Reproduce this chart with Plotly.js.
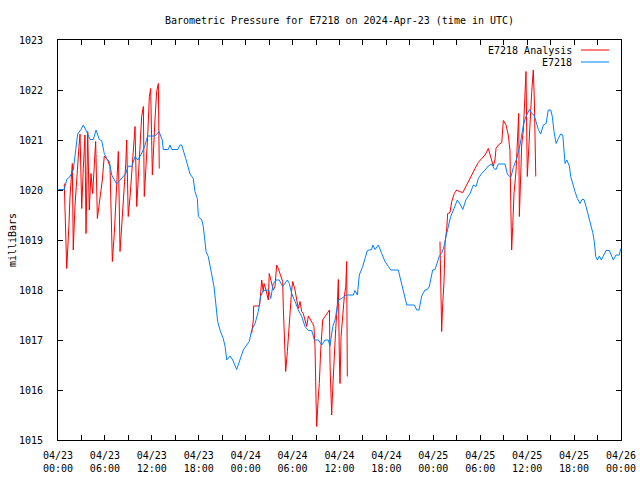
<!DOCTYPE html>
<html>
<head>
<meta charset="utf-8">
<script src="https://cdn.plot.ly/plotly-3.0.1.min.js"></script>
<style>html,body{margin:0;padding:0;background:#fff;}#chart{width:640px;height:480px;}</style>
</head>
<body>
<div id="chart"></div>
<script>
// Observed station pressure (E7218): minutes since 2024-04-23 00:00 UTC, millibars
const obsMinutes = [2,48,67,92,117,151,176,194,220,233,246,271,292,317,335,355,374,394,412,450,489,520,539,566,591,612,637,662,688,744,775,800,808,846,859,873,919,936,949,962,980,1013,1038,1051,1069,1077,1103,1115,1136,1153,1179,1197,1212,1225,1243,1268,1282,1295,1320,1341,1371,1397,1422,1448,1468,1486,1512,1537,1555,1575,1602,1617,1632,1652,1673,1698,1724,1742,1760,1775,1793,1819,1844,1870,1895,1921,1947,1967,1998,2024,2049,2074,2087,2108,2126,2151,2177,2210,2228,2266,2279,2297,2312,2338,2356,2374,2407,2415,2433,2458,2484,2509,2535,2553,2611,2630,2650,2663,2676,2734,2753,2770,2791,2816,2834,2849,2860,2875,2893,2911,2926,2944,2962,2977,2995,3013,3039,3064,3085,3106,3131,3162,3187,3208,3225,3251,3277,3302,3328,3346,3361,3379,3430,3448,3474,3494,3520,3545,3571,3591,3617,3635,3653,3668,3686,3704,3724,3745,3762,3781,3793,3806,3822,3839,3857,3873,3883,3891,3904,3924,3934,3950,3967,3985,4006,4021,4036,4052,4069,4088,4103,4115,4126,4139,4154,4169,4185,4205,4231,4246,4261,4282,4307,4318];
const obsPressure = [1020.01,1020.01,1020.21,1020.27,1020.40,1021.12,1021.21,1021.30,1021.17,1021.07,1021.01,1021.01,1021.20,1021.01,1020.99,1020.73,1020.63,1020.57,1020.30,1020.12,1020.23,1020.33,1020.48,1020.47,1020.67,1020.60,1020.71,1020.85,1021.08,1021.08,1021.17,1021.00,1020.81,1020.81,1020.90,1020.81,1020.81,1020.90,1020.90,1020.77,1020.63,1020.32,1020.23,1019.97,1019.83,1019.47,1019.40,1019.27,1018.77,1018.67,1018.33,1018.07,1017.70,1017.37,1017.20,1017.03,1016.87,1016.60,1016.68,1016.60,1016.41,1016.60,1016.80,1016.90,1016.97,1017.20,1017.33,1017.57,1017.87,1017.99,1018.00,1018.00,1017.83,1018.13,1018.20,1018.20,1018.07,1018.13,1018.20,1018.13,1017.93,1017.77,1017.60,1017.47,1017.27,1017.19,1017.19,1017.00,1017.00,1016.90,1017.00,1017.00,1016.88,1017.27,1017.40,1017.80,1017.83,1017.90,1017.90,1017.90,1017.99,1017.90,1018.30,1018.47,1018.63,1018.79,1018.81,1018.90,1018.81,1018.90,1018.73,1018.57,1018.47,1018.40,1018.40,1018.20,1018.03,1017.90,1017.70,1017.70,1017.60,1017.60,1017.88,1018.00,1018.01,1018.07,1018.23,1018.40,1018.41,1018.57,1018.68,1018.73,1018.87,1019.07,1019.27,1019.47,1019.63,1019.80,1019.72,1019.61,1019.81,1019.93,1020.10,1020.07,1020.23,1020.33,1020.40,1020.48,1020.52,1020.43,1020.41,1020.52,1020.52,1020.32,1020.25,1020.45,1020.63,1020.90,1021.30,1021.47,1021.61,1021.53,1021.50,1021.37,1021.21,1021.12,1021.30,1021.33,1021.60,1021.60,1021.47,1021.17,1020.93,1021.03,1021.12,1021.10,1020.67,1020.53,1020.60,1020.48,1020.27,1020.10,1019.97,1019.83,1019.73,1019.81,1019.81,1019.67,1019.50,1019.33,1019.15,1018.97,1018.67,1018.60,1018.68,1018.60,1018.70,1018.79,1018.79,1018.70,1018.60,1018.70,1018.70,1018.83];

// Analysis (E7218 Analysis): minutes since start, millibars; null = no analysis
const anaMinutes = [48,54,67,84,92,110,117,130,144,161,169,182,194,207,215,228,240,253,266,289,302,315,340,355,381,399,407,417,432,445,463,476,489,501,520,527,539,553,578,591,604,629,642,655,662,688,701,711,724,744,757,770,777,
  1100,
  1486,1499,1501,1545,1550,1563,1575,1581,1596,1614,1621,1634,1652,1665,1678,1690,1709,1724,1729,1742,1747,1760,1773,1780,1793,1801,1819,1832,1844,1857,1870,1882,1895,1908,1921,1939,1954,1964,1972,1980,1985,1995,2005,2016,2031,2049,2067,2083,2087,2100,2108,2120,2131,2143,2151,2159,2164,2172,2185,2197,2208,2215,2220,
  2600,
  2931,2937,2944,2952,2962,2970,2983,2990,3008,3021,3041,3059,3079,3106,3123,3148,3175,3200,3225,3251,3277,3302,3320,3340,3353,3361,3379,3405,3417,3438,3455,3468,3474,3481,3489,3499,3515,3528,3535,3540,3551,3558,3571,3584,3591,3601,3617,3635,3647,3655,3666];
const anaPressure = [1020.13,1019.67,1018.43,1019.30,1019.87,1020.53,1018.80,1019.67,1020.33,1020.87,1021.12,1019.63,1020.43,1021.10,1019.13,1021.17,1019.60,1020.33,1019.93,1020.97,1019.43,1019.70,1020.20,1020.68,1020.60,1020.47,1019.53,1018.57,1019.13,1019.77,1020.77,1018.77,1019.27,1019.80,1020.53,1021.00,1019.47,1019.87,1020.87,1021.27,1019.67,1020.93,1021.47,1021.67,1019.87,1021.07,1021.87,1022.03,1020.30,1021.40,1021.97,1022.13,1020.43,
  null,
  1017.13,1017.40,1017.68,1017.68,1017.77,1018.20,1017.97,1018.13,1018.00,1017.80,1018.33,1018.20,1018.00,1018.07,1018.50,1018.43,1018.30,1018.17,1017.63,1016.83,1016.37,1016.77,1017.27,1017.60,1018.00,1018.17,1018.00,1017.80,1017.63,1017.77,1017.57,1017.53,1017.40,1017.27,1017.48,1017.41,1017.33,1017.27,1016.87,1015.80,1015.27,1015.77,1016.13,1016.80,1017.40,1017.47,1017.53,1017.60,1016.53,1015.50,1016.03,1016.73,1017.23,1017.67,1018.21,1016.60,1016.13,1017.07,1017.60,1017.87,1018.07,1018.57,1016.27,
  null,
  1018.97,1018.08,1017.17,1017.73,1018.17,1018.93,1019.23,1019.53,1019.55,1019.77,1019.93,1020.00,1019.97,1019.95,1020.03,1020.17,1020.30,1020.43,1020.55,1020.63,1020.70,1020.83,1020.67,1020.48,1020.60,1020.83,1020.90,1020.95,1021.39,1021.30,1021.10,1020.80,1019.73,1018.80,1019.27,1019.93,1020.40,1021.33,1021.53,1019.47,1020.27,1020.90,1021.20,1022.13,1022.37,1020.27,1021.17,1021.97,1022.40,1021.80,1020.27];

const seriesNames = ['E7218 Analysis', 'E7218'];
const startUTC = Date.UTC(2024, 3, 23, 0, 0, 0);

function pad(n){ return (n < 10 ? '0' : '') + n; }
function toDate(min){
  const d = new Date(startUTC + min * 60000);
  return d.getUTCFullYear() + '-' + pad(d.getUTCMonth()+1) + '-' + pad(d.getUTCDate()) + ' ' + pad(d.getUTCHours()) + ':' + pad(d.getUTCMinutes()) + ':00';
}

const mono = 'DejaVu Sans Mono, Liberation Mono, monospace';
const red = '#ff0000', blue = '#0080ff';

const traces = [
  {x: anaMinutes.map(toDate), y: anaPressure, type: 'scatter', mode: 'lines', name: seriesNames[0],
   line: {color: red, width: 1}, connectgaps: false, showlegend: false, hoverinfo: 'skip'},
  {x: obsMinutes.map(toDate), y: obsPressure, type: 'scatter', mode: 'lines', name: seriesNames[1],
   line: {color: blue, width: 1}, showlegend: false, hoverinfo: 'skip'}
];

const pl = 58, pr = 621, pt = 40, pb = 440;
const W = pr - pl, H = pb - pt;
function px(x){ return (x - pl) / W; }
function py(y){ return (pb - y) / H; }

const layout = {
  width: 640, height: 480,
  paper_bgcolor: '#ffffff', plot_bgcolor: '#ffffff',
  margin: {l: pl, r: 640 - pr, t: pt, b: 480 - pb, pad: 0},
  font: {family: mono, size: 10, color: '#000'},
  title: {text: 'Barometric Pressure for E7218 on 2024-Apr-23 (time in UTC)', font: {family: mono, size: 10, color: '#000'},
          x: 0.5, xref: 'paper', xanchor: 'center', y: 1 - 20/480, yref: 'container', yanchor: 'middle'},
  xaxis: {
    type: 'date', range: [toDate(0), toDate(72*60)],
    tick0: toDate(0), dtick: 6*3600*1000, tickformat: '%m/%d<br>%H:%M',
    ticks: 'inside', ticklen: 5, tickcolor: '#000', tickwidth: 1,
    showline: true, linecolor: '#000', linewidth: 1, mirror: 'ticks',
    showgrid: false, zeroline: false, ticklabelstandoff: 6,
    tickfont: {family: mono, size: 10, color: '#000'},
    minor: {dtick: 3*3600*1000, tick0: toDate(0), ticks: 'inside', ticklen: 5, tickcolor: '#000', showgrid: false}
  },
  yaxis: {
    range: [1015, 1023], dtick: 1, tick0: 1015,
    ticks: 'inside', ticklen: 5, tickcolor: '#000', tickwidth: 1,
    showline: true, linecolor: '#000', linewidth: 1, mirror: 'ticks',
    showgrid: false, zeroline: false, ticklabelstandoff: 12,
    tickfont: {family: mono, size: 10, color: '#000'},
    title: {text: 'milliBars', font: {family: mono, size: 10, color: '#000'}, standoff: 0}
  },
  showlegend: false,
  annotations: [
    {text: seriesNames[0], xref: 'paper', yref: 'paper', x: px(574), y: py(50), xanchor: 'right', yanchor: 'middle', showarrow: false, font: {family: mono, size: 10, color: '#000'}},
    {text: seriesNames[1], xref: 'paper', yref: 'paper', x: px(574), y: py(62), xanchor: 'right', yanchor: 'middle', showarrow: false, font: {family: mono, size: 10, color: '#000'}}
  ],
  shapes: [
    {type: 'line', xref: 'paper', yref: 'paper', x0: px(581), x1: px(609), y0: py(50), y1: py(50), line: {color: red, width: 1}},
    {type: 'line', xref: 'paper', yref: 'paper', x0: px(581), x1: px(609), y0: py(62), y1: py(62), line: {color: blue, width: 1}}
  ]
};

Plotly.newPlot('chart', traces, layout, {displayModeBar: false, staticPlot: true});
</script>
</body>
</html>
